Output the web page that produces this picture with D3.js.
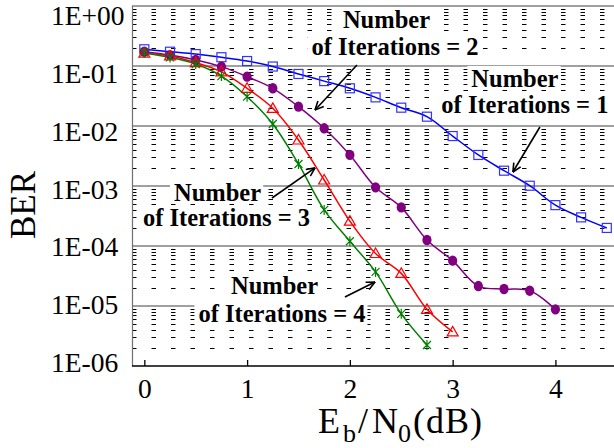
<!DOCTYPE html>
<html>
<head>
<meta charset="utf-8">
<script src="https://cdn.jsdelivr.net/npm/d3@7/dist/d3.min.js"></script>
<style>
  html, body { margin: 0; padding: 0; background: #fff; }
  svg { display: block; }
  svg text { font-family: "Liberation Serif", "DejaVu Serif", "Times New Roman", serif; }
</style>
</head>
<body>
<svg id="chart" width="614" height="448"></svg>
<script>
// ---------------- DATA ----------------
const snrDb = [0, 0.25, 0.5, 0.75, 1, 1.25, 1.5, 1.75, 2, 2.25, 2.5, 2.75, 3, 3.25, 3.5, 3.75, 4, 4.25, 4.5];
const berIter1 = [0.19, 0.173, 0.158, 0.14, 0.121, 0.098, 0.0736, 0.056, 0.0425, 0.030, 0.0202, 0.0143, 0.0068, 0.00329, 0.0018, 0.00101, 0.00048, 0.0003, 0.0002];
const berIter2 = [0.173, 0.152, 0.126, 0.0975, 0.0664, 0.0425, 0.021, 0.00915, 0.0033, 0.00095, 0.00044, 0.000126, 5.7e-5, 2.15e-5, 1.92e-5, 1.8e-5, 8.8e-6];
const berIter3 = [0.163, 0.147, 0.114, 0.08, 0.0425, 0.0197, 0.00584, 0.00126, 0.00026, 7.5e-5, 3.5e-5, 8.8e-6, 3.7e-6];
const berIter4 = [0.167, 0.139, 0.108, 0.068, 0.0308, 0.0108, 0.00233, 0.0004, 0.00012, 3.7e-5, 7.4e-6, 2.24e-6];
const xTickValues = [0, 1, 2, 3, 4];
const yTickValues = [1, 1e-1, 1e-2, 1e-3, 1e-4, 1e-5, 1e-6];
const yTickLabels = ["1E+00", "1E-01", "1E-02", "1E-03", "1E-04", "1E-05", "1E-06"];
const annotationLines1 = ["Number", "of Iterations = 1"];
const annotationLines2 = ["Number", "of Iterations = 2"];
const annotationLines3 = ["Number", "of Iterations = 3"];
const annotationLines4 = ["Number", "of Iterations = 4"];

// ---------------- LAYOUT ----------------
const W = 614, H = 448;
const svg = d3.select("#chart");
const x = d3.scaleLinear().domain([-0.12, 4.57]).range([132, 614]);
const y = d3.scaleLog().domain([1, 1e-6]).range([6, 366]);
const yLabelPos = d3.scaleLog().domain([1, 1e-6]).range([25, 372]);
const serif = "Liberation Serif, DejaVu Serif, serif";

svg.append("rect").attr("width", W).attr("height", H).attr("fill", "#fff");

// minor grid (dashed)
const allTicks = y.ticks();
const minor = allTicks.filter(v => {
  const m = v / Math.pow(10, Math.floor(Math.log10(v) + 1e-9));
  return Math.abs(m - 1) > 1e-6;
});
svg.append("g").selectAll("line").data(minor).join("line")
  .attr("x1", x.range()[0]).attr("x2", x.range()[1])
  .attr("y1", d => Math.round(y(d)) + 0.5).attr("y2", d => Math.round(y(d)) + 0.5)
  .attr("stroke", "#000").attr("stroke-width", 1)
  .attr("stroke-dasharray", "4.5,15");

// major grid
svg.append("g").selectAll("line").data(yTickValues.slice(0, -1)).join("line")
  .attr("x1", x.range()[0]).attr("x2", x.range()[1])
  .attr("y1", d => y(d)).attr("y2", d => y(d))
  .attr("stroke", "#808080").attr("stroke-width", 1.6);

// left axis line
svg.append("line").attr("x1", 132.5).attr("x2", 132.5)
  .attr("y1", y(1)).attr("y2", y(1e-6))
  .attr("stroke", "#707070").attr("stroke-width", 1.2);

// bottom axis via d3.axisBottom
const xAxis = d3.axisBottom(x).tickValues(xTickValues).tickSize(-6).tickFormat(d3.format("d")).tickPadding(12);
const gx = svg.append("g").attr("transform", `translate(0,${y(1e-6)})`).call(xAxis);
gx.attr("font-family", null).attr("font-size", null);
gx.select(".domain").attr("stroke", "#000").attr("stroke-width", 1.6)
  .attr("d", `M${x.range()[0]},0H${x.range()[1]}`);
gx.selectAll(".tick line").attr("stroke", "#000").attr("stroke-width", 1.3);
gx.selectAll(".tick text").style("font-family", serif).style("font-size", "27.5px")
  .attr("fill", "#000").attr("dy", "0.71em");

// y tick labels
svg.append("g").selectAll("text").data(yTickValues).join("text")
  .attr("x", 51).attr("y", d => yLabelPos(d))
  .style("font-family", serif).style("font-size", "27.5px").attr("fill", "#000")
  .text((d, i) => yTickLabels[i]);

// axis titles
svg.append("text")
  .attr("transform", "translate(35,205) rotate(-90)")
  .attr("text-anchor", "middle")
  .style("font-family", serif).style("font-size", "35px").attr("fill", "#000")
  .text("BER");

const xt = svg.append("text").attr("x", 318).attr("y", 433)
  .style("font-family", serif).style("font-size", "36px").attr("fill", "#000");
xt.append("tspan").text("E");
xt.append("tspan").attr("dx", 3).attr("dy", 9).style("font-size", "26px").text("b");
xt.append("tspan").attr("dx", 2).attr("dy", -9).text("/");
xt.append("tspan").attr("dx", 4).text("N");
xt.append("tspan").attr("dy", 9).style("font-size", "26px").text("0");
xt.append("tspan").attr("dx", 2).attr("dy", -9).attr("letter-spacing", 1).text("(dB)");

// ---------------- ANNOTATIONS (anchored in data space) ----------------
const annotations = [
  { lines: annotationLines1, cx: [3.606, 3.703], base: [0.0447, 0.01648], from: [3.849, 0.00962], to: [3.586, 0.00171] },
  { lines: annotationLines2, cx: [2.356, 2.439], base: [0.4217, 0.1526], from: [2.069, 0.104], to: [1.661, 0.0185] },
  { lines: annotationLines3, cx: [0.712, 0.80], base: [5.69e-4, 2.15e-4], from: [1.242, 6.31e-4], to: [1.661, 2.0e-3] },
  { lines: annotationLines4, cx: [1.267, 1.339], base: [1.585e-5, 5.41e-6], from: [1.952, 1.41e-5], to: [2.244, 2.51e-5] }
];

const boxLayer = svg.append("g");
const seriesLayer = svg.append("g");
const annLayer = svg.append("g");

annotations.forEach(a => {
  const t = annLayer.append("text")
    .attr("text-anchor", "middle")
    .style("font-family", serif).style("font-weight", "bold").style("font-size", "24.5px")
    .attr("fill", "#000");
  a.lines.forEach((ln, i) => {
    const ts = t.append("tspan")
      .attr("x", x(a.cx[i])).attr("y", y(a.base[i]))
      .text(ln);
    const bb = ts.node().getBBox();
    boxLayer.append("rect")
      .attr("x", bb.x - 4).attr("y", bb.y + 1).attr("width", bb.width + 6).attr("height", bb.height - 3)
      .attr("fill", "#fff");
  });
});

// arrow marker
const defs = svg.append("defs");
defs.append("marker").attr("id", "arr")
  .attr("viewBox", "0 0 10 10").attr("refX", 9.5).attr("refY", 5)
  .attr("markerWidth", 10).attr("markerHeight", 10).attr("markerUnits", "userSpaceOnUse")
  .attr("orient", "auto")
  .append("path").attr("d", "M1,1 L9.5,5 L1,9").attr("fill", "none")
  .attr("stroke", "#000").attr("stroke-width", 1.6);

annotations.forEach(a => {
  annLayer.append("line")
    .attr("x1", x(a.from[0])).attr("y1", y(a.from[1]))
    .attr("x2", x(a.to[0])).attr("y2", y(a.to[1]))
    .attr("stroke", "#000").attr("stroke-width", 1.6)
    .attr("marker-end", "url(#arr)");
});

// ---------------- SERIES ----------------
const series = [
  { vals: berIter1, color: "#0000ff", marker: "square" },
  { vals: berIter2, color: "#800080", marker: "circle" },
  { vals: berIter3, color: "#ff0000", marker: "triangle" },
  { vals: berIter4, color: "#008000", marker: "star" }
];

const line = d3.line().x(d => x(d[0])).y(d => y(d[1])).curve(d3.curveCatmullRom.alpha(0.5));

series.forEach(s => {
  const pts = s.vals.map((v, i) => [snrDb[i], v]);
  seriesLayer.append("path").datum(pts).attr("d", line)
    .attr("fill", "none").attr("stroke", s.color).attr("stroke-width", 1.5);
});

series.forEach(s => {
  const pts = s.vals.map((v, i) => [snrDb[i], v]);
  const g = seriesLayer.append("g");
  pts.forEach(p => {
    const px = x(p[0]), py = y(p[1]);
    if (s.marker === "square") {
      g.append("rect").attr("x", px - 4.5).attr("y", py - 4.5).attr("width", 9).attr("height", 9)
        .attr("fill", "none").attr("stroke", "#3333ff").attr("stroke-width", 1.2);
    } else if (s.marker === "circle") {
      g.append("ellipse").attr("cx", px).attr("cy", py).attr("rx", 4.6).attr("ry", 5.2)
        .attr("fill", s.color);
    } else if (s.marker === "triangle") {
      g.append("path").attr("d", `M${px},${py - 5.5}L${px + 5.5},${py + 4}L${px - 5.5},${py + 4}Z`)
        .attr("fill", "none").attr("stroke", s.color).attr("stroke-width", 1.2);
    } else {
      g.append("path").attr("d", `M${px - 4},${py - 4}L${px + 4},${py + 4}M${px - 4},${py + 4}L${px + 4},${py - 4}M${px},${py - 5}L${px},${py + 5}`)
        .attr("fill", "none").attr("stroke", s.color).attr("stroke-width", 1.2);
    }
  });
});
</script>
</body>
</html>
